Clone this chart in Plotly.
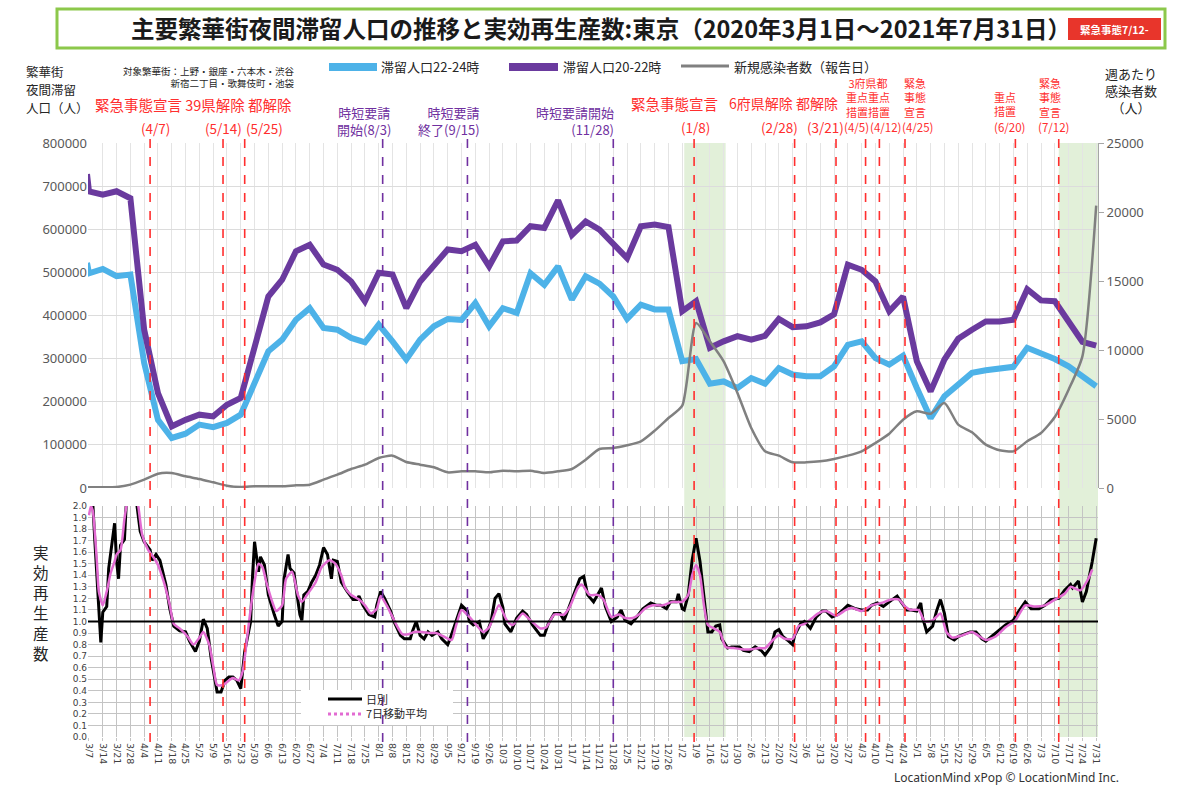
import pandas as pd
import plotly.graph_objects as go

FONT = "Noto Sans CJK JP"
BLUE = "#4db2e8"
PURPLE = "#6a3a9e"
GRAY = "#808080"
RED = "#ff2e2e"
PTEXT = "#7030a0"
PINK = "#e26bd2"

# ---------------- data ----------------
week_labels = ["3/7", "3/14", "3/21", "3/28", "4/4", "4/11", "4/18", "4/25", "5/2", "5/9",
               "5/16", "5/23", "5/30", "6/6", "6/13", "6/20", "6/27", "7/4", "7/11", "7/18",
               "7/25", "8/1", "8/8", "8/15", "8/22", "8/29", "9/5", "9/12", "9/19", "9/26",
               "10/3", "10/10", "10/17", "10/24", "10/31", "11/7", "11/14", "11/21", "11/28", "12/5",
               "12/12", "12/19", "12/26", "1/2", "1/9", "1/16", "1/23", "1/30", "2/6", "2/13",
               "2/20", "2/27", "3/6", "3/13", "3/20", "3/27", "4/3", "4/10", "4/17", "4/24",
               "5/1", "5/8", "5/15", "5/22", "5/29", "6/5", "6/12", "6/19", "6/26", "7/3",
               "7/10", "7/17", "7/24", "7/31"]
week_dates = pd.date_range("2020-03-07", periods=len(week_labels), freq="7D")

# first value is the partial week shown at the left edge (2020-03-06)
start_date = "2020-03-06"
pop_20_22 = [728000,
             688000, 680000, 688000, 672000, 367000, 220000, 143000, 158000, 170000, 166000,
             193000, 209000, 328000, 444000, 483000, 549000, 564000, 518000, 506000, 479000,
             433000, 499000, 495000, 417000, 479000, 514000, 553000, 549000, 564000, 514000,
             572000, 574000, 607000, 603000, 667000, 587000, 618000, 599000, 568000, 533000,
             607000, 611000, 605000, 410000, 433000, 325000, 340000, 352000, 344000, 353000,
             392000, 373000, 375000, 384000, 403000, 518000, 506000, 479000, 410000, 444000,
             294000, 224000, 298000, 346000, 367000, 386000, 386000, 390000, 461000, 435000,
             433000, 386000, 339000, 330000]
pop_22_24 = [522000,
             498000, 508000, 491000, 495000, 290000, 158000, 116000, 126000, 147000, 141000,
             151000, 170000, 243000, 317000, 344000, 390000, 417000, 371000, 367000, 348000,
             338000, 379000, 340000, 298000, 344000, 375000, 392000, 390000, 429000, 375000,
             417000, 406000, 498000, 471000, 514000, 437000, 491000, 474000, 444000, 392000,
             425000, 414000, 414000, 294000, 299000, 242000, 247000, 232000, 255000, 242000,
             278000, 263000, 259000, 259000, 282000, 332000, 340000, 301000, 286000, 307000,
             232000, 162000, 213000, 242000, 267000, 273000, 276000, 281000, 325000, 313000,
             299000, 282000, 260000, 236000]
new_cases_week = [48,
                  48, 48, 72, 242, 604, 1039, 1087, 845, 652, 411,
                  169, 72, 121, 121, 121, 193, 242, 604, 966, 1377,
                  1691, 2174, 2343, 1884, 1691, 1498, 1135, 1208, 1208, 1135,
                  1256, 1208, 1256, 1087, 1208, 1377, 2053, 2826, 2899, 3100,
                  3382, 4155, 5072, 5966, 11957, 10628, 9179, 6884, 4348, 2657,
                  2343, 1860, 1860, 1932, 2101, 2343, 2657, 3261, 3937, 4952,
                  5556, 5386, 6159, 4589, 4034, 3140, 2729, 2657, 3382, 3986,
                  5145, 7126, 9541, 20459]

# effective reproduction number (days counted from 2020-03-07)
r_day = [0, 2, 3, 5, 6, 7, 9, 10, 11, 13, 14, 15, 16, 18, 19, 21, 23, 24, 26, 28,
         31, 32, 34, 36, 39, 41, 43, 46, 49, 51, 54, 56, 58, 60, 62, 65, 67, 69, 71, 73,
         75, 77, 79, 82, 83, 84, 86, 87, 89, 91, 94, 96, 98, 99, 101, 102, 104, 106, 107, 108,
         109, 111, 113, 115, 117, 119, 121, 123, 124, 126, 128, 131, 134, 136, 137, 139, 142, 145, 146, 148,
         150, 153, 155, 158, 160, 163, 164, 166, 168, 170, 172, 174, 177, 179, 182, 183, 186, 189, 192, 193,
         195, 198, 200, 202, 204, 206, 208, 210, 211, 214, 217, 220, 222, 225, 229, 231, 233, 236, 239, 241,
         243, 246, 249, 251, 253, 256, 259, 260, 262, 265, 268, 270, 272, 275, 278, 281, 285, 288, 290, 293,
         295, 298, 299, 301, 302, 304, 306, 308, 310, 312, 314, 316, 318, 320, 321, 324, 326, 330, 332, 335,
         338, 341, 343, 346, 348, 350, 352, 355, 357, 358, 361, 363, 366, 369, 372, 374, 377, 380, 385, 389,
         392, 395, 397, 400, 403, 406, 410, 412, 415, 417, 420, 422, 423, 425, 428, 430, 432, 434, 436, 439,
         441, 444, 447, 450, 453, 455, 458, 461, 465, 469, 471, 475, 478, 482, 485, 488, 492, 495, 498, 499,
         502, 504, 506, 509, 511]
r_daily = [2.15, 2.0, 1.69, 1.14, 0.82, 1.08, 1.13, 1.46, 1.60, 1.85, 1.52, 1.37, 1.66, 1.71, 2.05, 2.35, 2.3, 2.05, 1.78, 1.69,
           1.62, 1.53, 1.58, 1.53, 1.32, 1.11, 0.96, 0.92, 0.91, 0.83, 0.74, 0.83, 1.02, 0.94, 0.68, 0.39, 0.39, 0.49, 0.52, 0.52,
           0.49, 0.42, 0.74, 1.00, 1.40, 1.69, 1.43, 1.56, 1.49, 1.23, 1.06, 0.96, 1.00, 1.37, 1.58, 1.46, 1.42, 1.20, 1.06, 1.01,
           1.23, 1.26, 1.34, 1.40, 1.49, 1.64, 1.58, 1.37, 1.53, 1.52, 1.34, 1.26, 1.19, 1.19, 1.22, 1.14, 1.06, 1.04, 1.14, 1.26,
           1.20, 1.09, 0.99, 0.88, 0.85, 0.85, 0.91, 1.00, 0.88, 0.85, 0.91, 0.88, 0.91, 0.85, 0.80, 0.84, 1.00, 1.14, 1.09, 1.00,
           0.97, 1.00, 0.85, 0.91, 1.00, 1.20, 1.24, 1.12, 0.98, 0.91, 1.03, 1.09, 1.06, 0.97, 0.88, 0.88, 0.98, 1.07, 1.07, 1.01,
           1.10, 1.23, 1.37, 1.39, 1.23, 1.17, 1.26, 1.29, 1.13, 1.00, 1.04, 1.10, 1.01, 0.98, 1.04, 1.11, 1.16, 1.14, 1.14, 1.11,
           1.17, 1.17, 1.24, 1.11, 1.10, 1.23, 1.53, 1.72, 1.52, 1.20, 0.91, 0.91, 0.96, 0.97, 0.85, 0.77, 0.78, 0.78, 0.75, 0.74,
           0.78, 0.75, 0.71, 0.78, 0.91, 0.93, 0.87, 0.83, 0.80, 0.88, 0.98, 1.00, 0.94, 1.04, 1.09, 1.09, 1.04, 1.06, 1.14, 1.11,
           1.10, 1.10, 1.14, 1.16, 1.13, 1.17, 1.22, 1.17, 1.10, 1.10, 1.09, 1.16, 1.03, 0.91, 0.96, 1.09, 1.19, 1.07, 0.87, 0.84,
           0.87, 0.89, 0.91, 0.91, 0.85, 0.83, 0.87, 0.91, 0.97, 1.01, 1.07, 1.17, 1.11, 1.11, 1.14, 1.19, 1.20, 1.27, 1.32, 1.29,
           1.35, 1.17, 1.26, 1.52, 1.72]

ma_day = [0, 1, 2, 4, 5, 7, 9, 11, 13, 14, 16, 18, 19, 21, 23, 25, 27, 30, 33, 35,
          38, 41, 43, 46, 50, 53, 56, 58, 61, 63, 65, 68, 71, 73, 76, 78, 80, 83, 86, 88,
          90, 93, 95, 98, 100, 103, 106, 108, 111, 115, 118, 122, 125, 128, 130, 133, 137, 140, 143, 146,
          148, 151, 154, 156, 159, 162, 165, 169, 173, 176, 180, 184, 186, 189, 193, 196, 200, 203, 208, 212,
          215, 220, 224, 229, 232, 236, 241, 244, 248, 250, 254, 258, 261, 265, 269, 272, 276, 279, 282, 286,
          291, 296, 301, 304, 306, 308, 310, 312, 314, 317, 320, 323, 327, 331, 336, 340, 343, 347, 350, 353,
          357, 360, 363, 367, 370, 374, 379, 384, 387, 392, 397, 402, 407, 411, 414, 417, 421, 424, 428, 432,
          435, 438, 443, 448, 451, 455, 460, 465, 470, 475, 480, 485, 490, 495, 498, 503, 507, 509]
r_ma7 = [1.92, 2.0, 1.95, 1.52, 1.26, 1.14, 1.26, 1.42, 1.52, 1.58, 1.62, 1.89, 2.0, 2.2, 2.15, 2.0, 1.75, 1.62, 1.55, 1.49,
         1.34, 1.14, 0.98, 0.94, 0.87, 0.80, 0.86, 0.91, 0.80, 0.62, 0.45, 0.45, 0.49, 0.51, 0.49, 0.57, 0.83, 1.23, 1.50, 1.47,
         1.34, 1.17, 1.09, 1.14, 1.37, 1.43, 1.23, 1.17, 1.24, 1.34, 1.47, 1.53, 1.50, 1.40, 1.29, 1.23, 1.19, 1.14, 1.07, 1.11,
         1.22, 1.14, 1.04, 0.97, 0.89, 0.89, 0.91, 0.91, 0.90, 0.90, 0.87, 0.84, 0.95, 1.10, 1.04, 0.98, 0.91, 0.95, 1.14, 1.01,
         0.97, 1.07, 1.01, 0.94, 0.95, 1.06, 1.06, 1.13, 1.29, 1.32, 1.23, 1.23, 1.19, 1.04, 1.06, 1.03, 1.03, 1.06, 1.11, 1.14,
         1.14, 1.17, 1.17, 1.23, 1.40, 1.49, 1.40, 1.14, 0.97, 0.94, 0.91, 0.78, 0.77, 0.76, 0.76, 0.77, 0.77, 0.84, 0.88, 0.85,
         0.85, 0.96, 0.98, 1.03, 1.07, 1.09, 1.05, 1.10, 1.12, 1.09, 1.14, 1.16, 1.19, 1.19, 1.13, 1.10, 1.10, 1.00, 1.01, 1.07,
         0.91, 0.86, 0.88, 0.91, 0.88, 0.84, 0.87, 0.95, 1.01, 1.14, 1.13, 1.14, 1.19, 1.24, 1.30, 1.27, 1.37, 1.45]

red_events = ["2020-04-07", "2020-05-14", "2020-05-25", "2021-01-08", "2021-02-28", "2021-03-21",
              "2021-04-05", "2021-04-12", "2021-04-25", "2021-06-20", "2021-07-12"]
purple_events = ["2020-08-03", "2020-09-15", "2020-11-28"]
green_periods = [("2021-01-03", "2021-01-24"), ("2021-07-12", "2021-07-31 22:00")]

# ---------------- geometry helpers ----------------
W, H = 1200, 796
L, R, T, B = 88, 102, 143, 59
PW, PH = W - L - R, H - T - B


def px(x):
    return (x - L) / PW


def py(y):
    return (H - B - y) / PH


r_dates = pd.Timestamp("2020-03-07") + pd.to_timedelta(r_day, unit="D")
ma_dates = pd.Timestamp("2020-03-07") + pd.to_timedelta(ma_day, unit="D")
upper_x = [pd.Timestamp(start_date)] + list(week_dates)

fig = go.Figure()
fig.add_trace(go.Scatter(x=upper_x, y=pop_22_24, mode="lines", name="滞留人口22-24時",
                         line=dict(color=BLUE, width=6), xaxis="x2", yaxis="y2", showlegend=False))
fig.add_trace(go.Scatter(x=upper_x, y=pop_20_22, mode="lines", name="滞留人口20-22時",
                         line=dict(color=PURPLE, width=6), xaxis="x2", yaxis="y2", showlegend=False))
fig.add_trace(go.Scatter(x=upper_x, y=new_cases_week, mode="lines", name="新規感染者数（報告日）",
                         line=dict(color=GRAY, width=2.5, shape="spline", smoothing=0.6),
                         xaxis="x2", yaxis="y3", showlegend=False))
fig.add_trace(go.Scatter(x=r_dates, y=r_daily, mode="lines", name="日別",
                         line=dict(color="black", width=3), xaxis="x", yaxis="y", showlegend=False))
fig.add_trace(go.Scatter(x=ma_dates, y=r_ma7, mode="lines", name="7日移動平均",
                         line=dict(color=PINK, width=2.5, shape="spline", smoothing=0.6),
                         xaxis="x", yaxis="y", showlegend=False))

xrange = ["2020-03-06 12:00", "2021-07-31 22:00"]
shapes = []
ann = []

# green shaded periods
for a, b in green_periods:
    shapes.append(dict(type="rect", xref="x", yref="paper", x0=a, x1=b, y0=0, y1=1,
                       fillcolor="#e2f0d9", line=dict(width=0), layer="below"))

# reference line R=1
shapes.append(dict(type="line", xref="paper", yref="y", x0=0, x1=1, y0=1.0, y1=1.0,
                   line=dict(color="black", width=2), layer="above"))

# lower legend box
shapes.append(dict(type="rect", xref="paper", yref="paper", x0=px(301), x1=px(453), y0=py(725), y1=py(690),
                   fillcolor="white", line=dict(width=0), layer="above"))

# event lines
for d in red_events:
    shapes.append(dict(type="line", xref="x", yref="paper", x0=d, x1=d, y0=py(742), y1=py(134),
                       line=dict(color=RED, width=1.6, dash="dash"), layer="above"))
for d in purple_events:
    shapes.append(dict(type="line", xref="x", yref="paper", x0=d, x1=d, y0=py(742), y1=py(134),
                       line=dict(color=PTEXT, width=1.6, dash="dash"), layer="above"))

# title frame and badge
shapes.append(dict(type="rect", xref="paper", yref="paper", x0=px(57), x1=px(1165), y0=py(48), y1=py(9),
                   line=dict(color="#8cc84b", width=3), fillcolor="white", layer="above"))
shapes.append(dict(type="rect", xref="paper", yref="paper", x0=px(1068), x1=px(1161), y0=py(40), y1=py(18),
                   line=dict(width=0), fillcolor="#e8352b", layer="above"))

# upper legend swatches
shapes.append(dict(type="line", xref="paper", yref="paper", x0=px(329), x1=px(377), y0=py(67), y1=py(67),
                   line=dict(color=BLUE, width=8)))
shapes.append(dict(type="line", xref="paper", yref="paper", x0=px(509), x1=px(558), y0=py(67), y1=py(67),
                   line=dict(color=PURPLE, width=8)))
shapes.append(dict(type="line", xref="paper", yref="paper", x0=px(681), x1=px(729), y0=py(66), y1=py(66),
                   line=dict(color=GRAY, width=3)))
# lower legend swatches
shapes.append(dict(type="line", xref="paper", yref="paper", x0=px(328), x1=px(362), y0=py(699), y1=py(699),
                   line=dict(color="black", width=3), layer="above"))
shapes.append(dict(type="line", xref="paper", yref="paper", x0=px(328), x1=px(362), y0=py(714), y1=py(714),
                   line=dict(color=PINK, width=3, dash="dot"), layer="above"))


def txt(x, y, s, size, color="#262626", anchor="center", family=FONT):
    ann.append(dict(x=px(x), y=py(y), xref="paper", yref="paper", text=s, showarrow=False,
                    xanchor=anchor, yanchor="middle", align=anchor if anchor != "center" else "center",
                    borderpad=0, font=dict(size=size, color=color, family=family)))


txt(601, 28, "<b>主要繁華街夜間滞留人口の推移と実効再生産数:東京（2020年3月1日～2021年7月31日）</b>", 23.5, "#1a1a1a")
txt(1114, 29, "<b>緊急事態7/12-</b>", 10.5, "white")

txt(380, 67, "滞留人口22-24時", 13, "#262626", "left")
txt(562, 67, "滞留人口20-22時", 13, "#262626", "left")
txt(733, 66, "新規感染者数（報告日）", 13, "#262626", "left")

txt(25, 72, "繁華街", 12.5, "#262626", "left")
txt(25, 89.5, "夜間滞留", 12.5, "#262626", "left")
txt(25, 107, "人口（人）", 12.5, "#262626", "left")
txt(296, 77, "対象繁華街：上野・銀座・六本木・渋谷<br>新宿二丁目・歌舞伎町・池袋", 9.5, "#262626", "right")

txt(1131, 91, "週あたり<br>感染者数<br>（人）", 13, "#262626")

# red / purple event labels
txt(94, 105, "緊急事態宣言 39県解除 都解除", 14.5, RED, "left")
txt(155, 128, "(4/7)", 13.5, RED)
txt(223, 128, "(5/14)", 13.5, RED)
txt(264, 128, "(5/25)", 13.5, RED)
txt(364, 121, "時短要請<br>開始(8/3)", 13, PTEXT)
txt(481, 121, "時短要請<br>終了(9/15)", 13, PTEXT, "right")
txt(615, 121, "時短要請開始<br>(11/28)", 13, PTEXT, "right")

txt(674, 103, "緊急事態宣言", 14.5, RED)
txt(695, 127, "(1/8)", 13.5, RED)
txt(783, 103, "6府県解除 都解除", 14, RED)
txt(779, 127, "(2/28)", 13.5, RED)
txt(825, 127, "(3/21)", 13.5, RED)
txt(868, 97, "3府県都<br>重点重点<br>措置措置", 11, RED)
txt(856, 127, "(4/5)", 11.5, RED)
txt(885, 127, "(4/12)", 11.5, RED)
txt(915, 97, "緊急<br>事態<br>宣言", 11, RED)
txt(917, 127, "(4/25)", 11.5, RED)
txt(1005, 104, "重点<br>措置", 11, RED)
txt(1009, 127, "(6/20)", 11.5, RED)
txt(1050, 97, "緊急<br>事態<br>宣言", 11, RED)
txt(1053, 127, "(7/12)", 11.5, RED)

txt(41, 602, "実<br>効<br>再<br>生<br>産<br>数", 15.5, "#262626")

txt(365, 706, "日別<br>7日移動平均", 11, "#262626", "left")

txt(1120, 777, "LocationMind xPop © LocationMind Inc.", 12, "#333333", "right", "Noto Sans")

lower_top = py(506)
upper_bottom = py(488)

fig.update_layout(
    width=W, height=H,
    margin=dict(l=L, r=R, t=T, b=B),
    paper_bgcolor="white", plot_bgcolor="rgba(0,0,0,0)",
    font=dict(family=FONT, color="#262626"),
    shapes=shapes, annotations=ann,
    xaxis=dict(domain=[0, 1], anchor="y", type="date", range=xrange, automargin=False,
               tickmode="array", tickvals=list(week_dates), ticktext=week_labels,
               tickangle=90, tickfont=dict(size=9.5, color="#404040", family="DejaVu Sans"),
               showgrid=True, gridcolor="#c4c4c4", gridwidth=1, zeroline=False, showline=False,
               ticks="outside", ticklen=3, tickcolor="#c4c4c4"),
    xaxis2=dict(domain=[0, 1], anchor="y2", type="date", matches="x", automargin=False,
                tickmode="array", tickvals=list(week_dates), showticklabels=False,
                showgrid=True, gridcolor="#e4e4e4", gridwidth=1, zeroline=False, showline=False),
    yaxis=dict(domain=[0, lower_top], range=[0, 2.0], tickmode="linear", tick0=0, dtick=0.1,
               tickformat=".1f", showgrid=True, gridcolor="#c4c4c4", gridwidth=1, zeroline=False,
               automargin=False,
               tickfont=dict(size=9, color="#404040", family="DejaVu Sans"), showline=False),
    yaxis2=dict(domain=[upper_bottom, 1], range=[0, 800000], tickmode="linear", tick0=0, dtick=100000,
                tickformat="d", showgrid=True, gridcolor="#dcdcdc", gridwidth=1, zeroline=False,
                automargin=False,
                tickfont=dict(size=13, color="#595959", family="Noto Sans"), showline=False),
    yaxis3=dict(overlaying="y2", anchor="x2", side="right", range=[0, 25000], tickmode="linear",
                tick0=0, dtick=5000, tickformat="d", showgrid=False, zeroline=False, showline=True,
                linecolor="#a6a6a6", automargin=False,
                ticks="outside", ticklen=5, tickcolor="#a6a6a6",
                tickfont=dict(size=13, color="#595959", family="Noto Sans")),
)

fig.write_html("out.html", config={"displayModeBar": False},
               post_script="document.body.style.margin='0';")
